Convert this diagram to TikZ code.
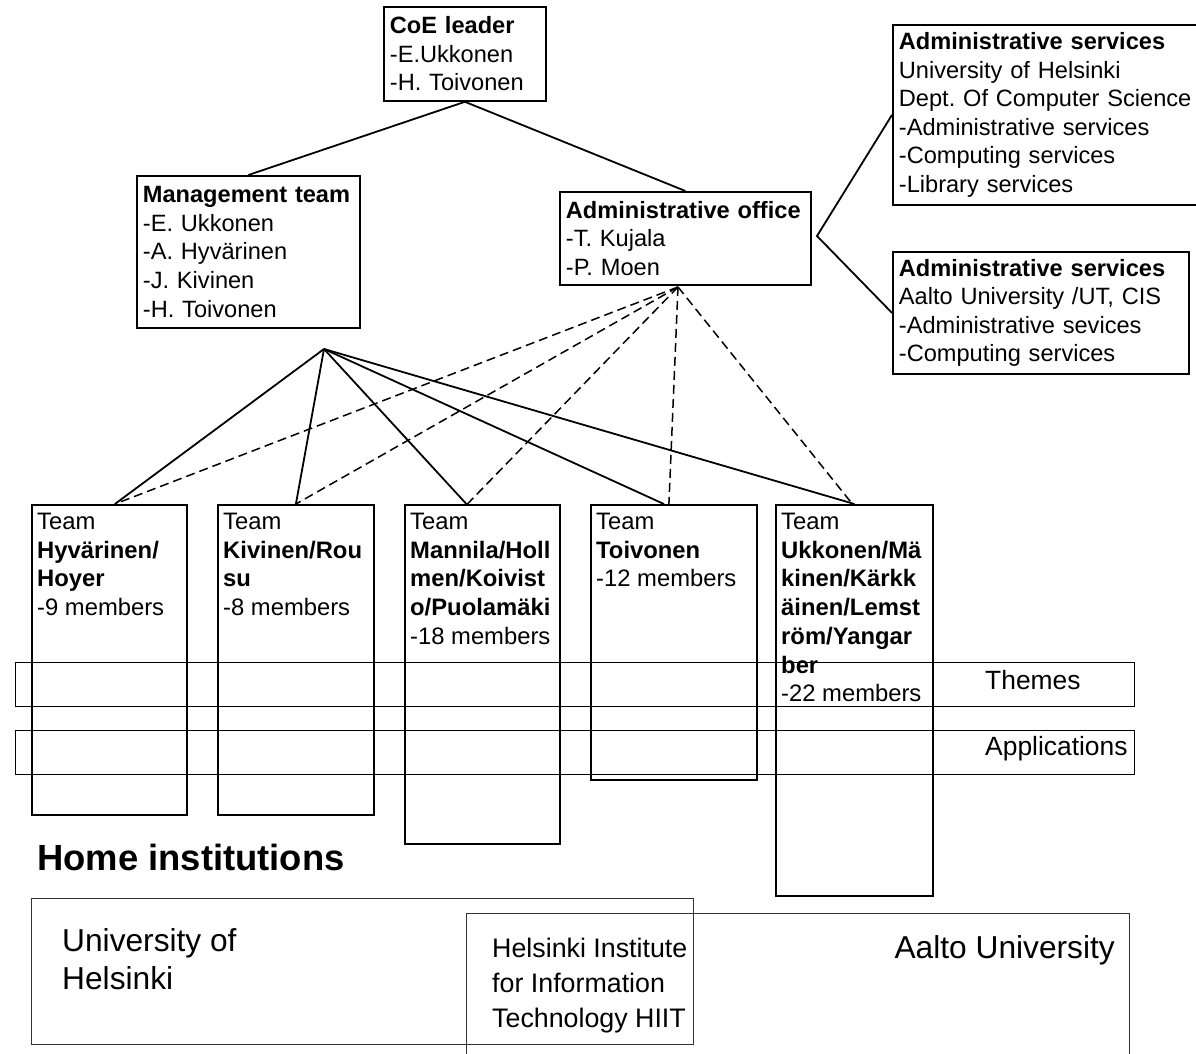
\documentclass[tikz,border=0pt]{standalone}
\usepackage{fontspec}
\setmainfont{Liberation Sans}
\usetikzlibrary{calc}
\frenchspacing
\tikzstyle{box}=[rectangle,draw=black,line width=1.8pt,anchor=north west,
  align=left,inner xsep=6pt,inner ysep=0pt,font=\fontsize{23.6}{28.6}\selectfont]
\tikzstyle{team}=[rectangle,draw=black,line width=1.8pt,anchor=north west,inner sep=0pt]
\tikzstyle{txt}=[anchor=north west,align=left,inner xsep=6pt,inner ysep=9pt,
  font=\fontsize{23.8}{28.7}\selectfont]
\tikzstyle{band}=[rectangle,draw=black,line width=1.3pt,anchor=north west,inner sep=0pt]
\tikzstyle{inst}=[rectangle,draw=black!80,line width=1.3pt,anchor=north west,inner sep=0pt]
\tikzstyle{lead}=[line width=1.8pt]
\tikzstyle{adm}=[line width=1.5pt,dash pattern=on 9pt off 5pt]
\tikzstyle{none}=[]

\begin{document}
\begin{tikzpicture}[x=1pt, y=-1pt]
            \useasboundingbox (0,0) rectangle (1196,1054);
            \node [style=box, text width=150, minimum height=94] (0) at (383, 6) {\textbf{CoE leader}\\-E.Ukkonen\\-H. Toivonen};
            \node [style=box, text width=211, minimum height=152] (1) at (136, 175) {\textbf{Management team}\\-E. Ukkonen\\-A. Hyvärinen\\-J. Kivinen\\-H. Toivonen};
            \node [style=box, text width=239, minimum height=93] (2) at (559, 191) {\textbf{Administrative office}\\-T. Kujala\\-P. Moen};
            \node [style=box, text width=330, minimum height=180] (3) at (892, 24) {\textbf{Administrative services}\\University of Helsinki\\Dept. Of Computer Science\\-Administrative services\\-Computing services\\-Library services};
            \node [style=box, text width=284, minimum height=122] (4) at (892, 251) {\textbf{Administrative services}\\Aalto University /UT, CIS\\-Administrative sevices\\-Computing services};
            \node [style=band, minimum width=1119, minimum height=44] (10) at (15, 662) {};
            \node [style=band, minimum width=1119, minimum height=44] (11) at (15, 730) {};
            \node [style=none, anchor=base west, font=\fontsize{26.4}{30}\selectfont, inner sep=0pt] (12) at (985, 689) {Themes};
            \node [style=none, anchor=base west, font=\fontsize{26.4}{30}\selectfont, inner sep=0pt] (13) at (985, 755) {Applications};
            \node [style=team, minimum width=155, minimum height=310] (5) at (31, 504) {};
            \node [style=team, minimum width=156, minimum height=310] (6) at (217, 504) {};
            \node [style=team, minimum width=155, minimum height=339] (7) at (404, 504) {};
            \node [style=team, minimum width=166, minimum height=275] (8) at (590, 504) {};
            \node [style=team, minimum width=157, minimum height=391] (9) at (775, 504) {};
            \node [style=txt] (20) at (5.north west) {Team\\\textbf{Hyvärinen/}\\\textbf{Hoyer}\\-9 members};
            \node [style=txt] (21) at (6.north west) {Team\\\textbf{Kivinen/Rou}\\\textbf{su}\\-8 members};
            \node [style=txt] (22) at (7.north west) {Team\\\textbf{Mannila/Holl}\\\textbf{men/Koivist}\\\textbf{o/Puolamäki}\\-18 members};
            \node [style=txt] (23) at (8.north west) {Team\\\textbf{Toivonen}\\-12 members};
            \node [style=txt] (24) at (9.north west) {Team\\\textbf{Ukkonen/Mä}\\\textbf{kinen/Kärkk}\\\textbf{äinen/Lemst}\\\textbf{röm/Yangar}\\\textbf{ber}\\-22 members};
            \node [style=none, anchor=base west, inner sep=0pt, font=\fontsize{36.4}{40}\selectfont\bfseries] (30) at (37, 870) {Home institutions};
            \node [style=inst, minimum width=662, minimum height=146] (31) at (31, 898) {};
            \node [style=inst, minimum width=663, minimum height=170] (32) at (466, 913) {};
            \node [style=none, anchor=base west, inner sep=0pt, align=left, font=\fontsize{31.7}{38}\selectfont] (33) at (62, 989) {University of\\Helsinki};
            \node [style=none, anchor=base west, inner sep=0pt, align=left, font=\fontsize{26.8}{35}\selectfont] (34) at (492, 1027) {Helsinki Institute\\for Information\\Technology HIIT};
            \node [style=none, anchor=base east, inner sep=0pt, font=\fontsize{31.7}{38}\selectfont] (35) at (1115, 958) {Aalto University};
            \coordinate (17) at (817, 236);
            \coordinate (18) at (324, 349);
            \coordinate (19) at (678, 287);
            \draw [style=lead] (0.south) to (1.north);
            \draw [style=lead] (0.south) to (2.north);
            \draw [style=lead] (3.west) to (17) to (4.west);
            \draw [style=lead] (18) to ([xshift=5.5]5.north);
            \draw [style=lead] (18) to (6.north);
            \draw [style=lead] (18) to ([xshift=-16]7.north);
            \draw [style=lead] (18) to ([xshift=-10]8.north);
            \draw [style=lead] (18) to (9.north);
            \draw [style=adm] (19) to ([xshift=5.5]5.north);
            \draw [style=adm] (19) to (6.north);
            \draw [style=adm] (19) to ([xshift=-15]7.north);
            \draw [style=adm] (19) to ([xshift=-5]8.north);
            \draw [style=adm] (19) to ([xshift=-2]9.north);
    \end{tikzpicture}
\end{document}
